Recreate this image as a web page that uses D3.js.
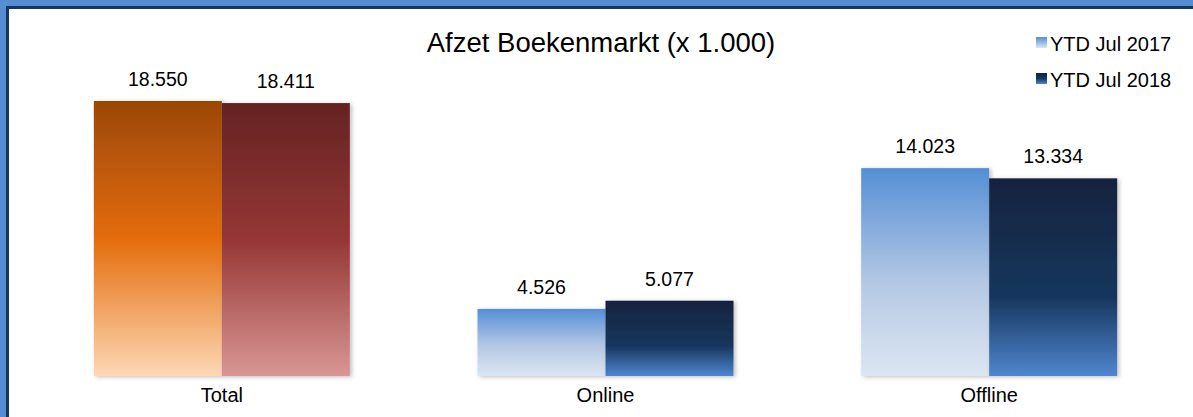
<!DOCTYPE html>
<html>
<head>
<meta charset="utf-8">
<script src="https://cdn.jsdelivr.net/npm/d3@7"></script>
<style>
  html, body { margin: 0; padding: 0; background: #fff; overflow: hidden; }
  svg { display: block; }
  text { font-family: "Liberation Sans", Arial, sans-serif; fill: #000; }
</style>
</head>
<body>
<svg id="chart" width="1193" height="417"></svg>
<script>
// data
const categories = ["Total", "Online", "Offline"]
const seriesNames = ["YTD Jul 2017", "YTD Jul 2018"]
const values2017 = [18550, 4526, 14023]
const values2018 = [18411, 5077, 13334]
const valueLabels2017 = ["18.550", "4.526", "14.023"]
const valueLabels2018 = ["18.411", "5.077", "13.334"]

const W = 1193, H = 417
const svg = d3.select("#chart")

// frame (only top + left edges are in view)
svg.append("rect").attr("x", 0).attr("y", 0).attr("width", W + 50).attr("height", H + 50).attr("fill", "#558ed5")
svg.append("rect").attr("x", 6).attr("y", 6).attr("width", W + 50).attr("height", H + 50).attr("fill", "#17365d")
svg.append("rect").attr("x", 9).attr("y", 9).attr("width", W + 50).attr("height", H + 50).attr("fill", "#fff")

const defs = svg.append("defs")
function grad(id, stops) {
    const g = defs.append("linearGradient").attr("id", id)
        .attr("x1", 0).attr("y1", 0).attr("x2", 0).attr("y2", 1)
    stops.forEach(s => g.append("stop").attr("offset", s[0]).attr("stop-color", s[1]))
}
grad("g_total17", [[0, "#9b4706"], [0.5, "#e46c0a"], [1, "#fdd8b4"]])
grad("g_total18", [[0, "#652323"], [0.5, "#953735"], [1, "#d99694"]])
grad("g_blue17", [[0, "#558ed5"], [0.55, "#b4c8e4"], [1, "#dce6f2"]])
grad("g_blue18", [[0, "#12233d"], [0.6, "#17365d"], [1, "#4f86cf"]])
grad("g_leg17", [[0, "#558ed5"], [1, "#dce6f2"]])
grad("g_leg18", [[0, "#12233d"], [0.5, "#17365d"], [1, "#4f86cf"]])

const filter = defs.append("filter").attr("id", "shadow")
    .attr("x", "-10%").attr("y", "-10%").attr("width", "130%").attr("height", "130%")
filter.append("feDropShadow").attr("dx", 2).attr("dy", 1).attr("stdDeviation", 2)
    .attr("flood-color", "#000").attr("flood-opacity", 0.25)

const x0 = 30, x1 = 1181, baseY = 376
const xScale = d3.scaleBand().domain(categories).range([x0, x1]).paddingInner(0).paddingOuter(0)
const xSub = d3.scaleBand().domain(seriesNames).range([0, 256])
const yScale = d3.scaleLinear().domain([0, 20000]).range([baseY, baseY - 296.5])

const fills = [["g_total17", "g_total18"], ["g_blue17", "g_blue18"], ["g_blue17", "g_blue18"]]

const rows = categories.map((c, i) => ({
    cat: c,
    bars: [
        { s: seriesNames[0], v: values2017[i], lab: valueLabels2017[i], fill: fills[i][0] },
        { s: seriesNames[1], v: values2018[i], lab: valueLabels2018[i], fill: fills[i][1] }
    ]
}))

const groups = svg.selectAll(".cat")
    .data(rows)
    .join("g")
    .attr("class", "cat")
    .attr("transform", d => `translate(${xScale(d.cat) + xScale.bandwidth() / 2 - 128},0)`)

groups.selectAll("rect")
    .data(d => d.bars)
    .join("rect")
    .attr("x", d => xSub(d.s))
    .attr("y", d => yScale(d.v))
    .attr("width", xSub.bandwidth())
    .attr("height", d => baseY - yScale(d.v))
    .attr("fill", d => `url(#${d.fill})`)
    .attr("filter", "url(#shadow)")

groups.selectAll("text.val")
    .data(d => d.bars)
    .join("text")
    .attr("class", "val")
    .attr("x", d => xSub(d.s) + xSub.bandwidth() / 2)
    .attr("y", d => yScale(d.v) - 15)
    .attr("text-anchor", "middle")
    .attr("font-size", 19.5)
    .text(d => d.lab)

// axis line
svg.append("line")
    .attr("x1", x0).attr("x2", x1).attr("y1", baseY + 0.5).attr("y2", baseY + 0.5)
    .attr("stroke", "#9a9a9a").attr("stroke-width", 2)
    .attr("filter", "url(#shadow)")

const xAxis = d3.axisBottom(xScale).tickSize(0).tickPadding(11)
const ax = svg.append("g").attr("transform", `translate(0,${baseY + 1})`).call(xAxis)
ax.select(".domain").remove()
ax.selectAll("text").attr("font-size", 20).attr("font-family", "Liberation Sans, Arial, sans-serif").attr("fill", "#000")

// title
svg.append("text")
    .attr("x", 601).attr("y", 52)
    .attr("text-anchor", "middle")
    .attr("font-size", 27.5)
    .text("Afzet Boekenmarkt (x 1.000)")

// legend
const legend = svg.append("g").attr("transform", "translate(1036,37)")
const items = legend.selectAll("g")
    .data(seriesNames)
    .join("g")
    .attr("transform", (d, i) => `translate(0,${i * 36})`)
items.append("rect")
    .attr("width", 11).attr("height", 11)
    .attr("fill", (d, i) => i === 0 ? "url(#g_leg17)" : "url(#g_leg18)")
items.append("text")
    .attr("x", 14).attr("y", 14)
    .attr("font-size", 20)
    .text(d => d)
</script>
</body>
</html>
